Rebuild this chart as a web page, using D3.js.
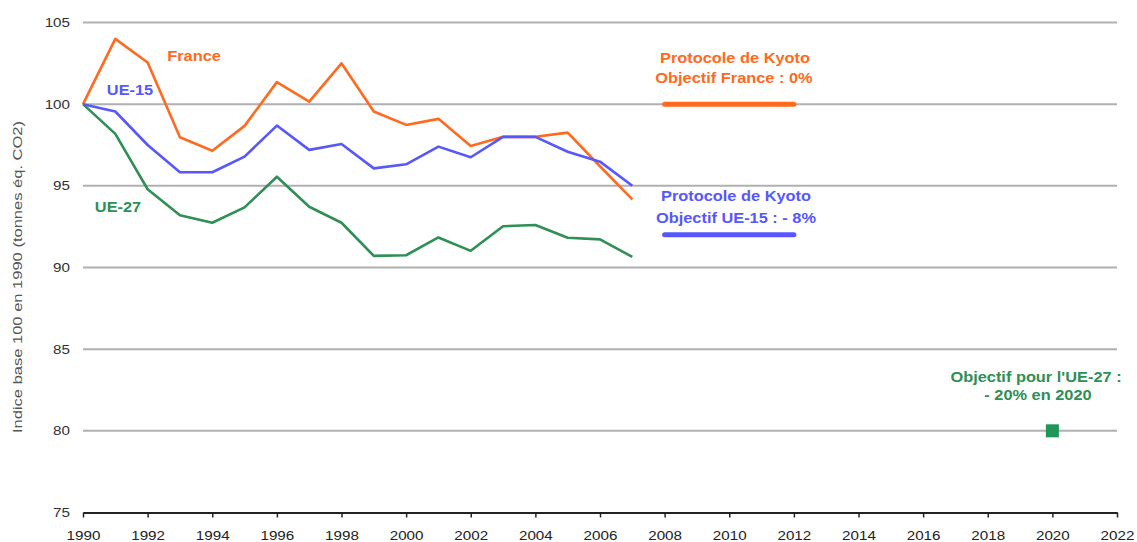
<!DOCTYPE html>
<html>
<head>
<meta charset="utf-8">
<script src="https://cdn.jsdelivr.net/npm/d3@7"></script>
<style>
  body { margin: 0; background: #fff; }
  text { font-family: "Liberation Sans", Arial, sans-serif; }
  .lbl { font-weight: bold; font-size: 14px; }
</style>
</head>
<body>
<div id="chart"></div>
<script>
var years = d3.range(1990, 2008);
var france = [100, 104.0, 102.55, 97.97, 97.15, 98.67, 101.35, 100.16, 102.5, 99.55,
              98.73, 99.1, 97.44, 98.0, 98.0, 98.26, 96.2, 94.17];
var ue15 = [100, 99.55, 97.5, 95.83, 95.83, 96.79, 98.69, 97.2, 97.56, 96.07,
            96.32, 97.4, 96.75, 98.0, 98.0, 97.09, 96.48, 95.0];
var ue27 = [100, 98.18, 94.79, 93.2, 92.74, 93.68, 95.56, 93.72, 92.74, 90.71,
            90.75, 91.84, 91.02, 92.53, 92.6, 91.82, 91.72, 90.65];
var kyotoYears = [2008, 2012];
var kyotoFrance = 100;
var kyotoUE15 = 92;
var target2020 = { year: 2020, value: 80 };
var yTicks = [75, 80, 85, 90, 95, 100, 105];
var xTicks = d3.range(1990, 2023, 2);

var orange = "#ff6a1f", blue = "#5757ff", green = "#2f8f55";
var stretch = 1.17;   // the source type is drawn a bit wide

var width = 1137, height = 542,
    margin = { top: 22, right: 20, bottom: 30, left: 83 };

var svg = d3.select("#chart").append("svg")
    .attr("width", width)
    .attr("height", height);

var x = d3.scaleLinear().domain([1990, 2022]).range([margin.left, 1117]);
var y = d3.scaleLinear().domain([75, 105]).range([512.5, 22.5]);

// grid lines
svg.append("g")
    .selectAll("line")
    .data(yTicks.filter(function (d) { return d > 75; }))
    .enter().append("line")
    .attr("x1", x(1990))
    .attr("x2", x(2022))
    .attr("y1", function (d) { return y(d); })
    .attr("y2", function (d) { return y(d); })
    .attr("stroke", "#b0b0b0")
    .attr("stroke-width", 2);

// y labels
svg.append("g")
    .selectAll("text")
    .data(yTicks)
    .enter().append("text")
    .attr("transform", function (d) { return "translate(70," + y(d) + ") scale(" + stretch + ",1)"; })
    .attr("dy", "0.35em")
    .attr("text-anchor", "end")
    .attr("font-size", 13)
    .attr("fill", "#333")
    .text(function (d) { return d; });

// x axis
var xAxis = svg.append("g")
    .attr("transform", "translate(0," + y(75) + ")")
    .call(d3.axisBottom(x)
        .tickValues(xTicks)
        .tickFormat(d3.format("d"))
        .tickSize(5)
        .tickSizeOuter(0));

xAxis.select(".domain").attr("stroke", "#222").attr("stroke-width", 2);
xAxis.selectAll(".tick line").attr("stroke", "#222").attr("stroke-width", 1.5);
xAxis.selectAll(".tick text")
    .attr("font-size", 13)
    .attr("font-family", "Liberation Sans, Arial, sans-serif")
    .attr("fill", "#222")
    .attr("dy", 20)
    .attr("transform", "scale(" + stretch + ",1)");

// y title
svg.append("text")
    .attr("transform", "translate(22," + 277 + ") rotate(-90)")
    .attr("text-anchor", "middle")
    .attr("font-size", 13)
    .attr("fill", "#555")
    .attr("textLength", 312)
    .attr("lengthAdjust", "spacingAndGlyphs")
    .text("Indice base 100 en 1990 (tonnes éq. CO2)");

var line = d3.line()
    .x(function (d, i) { return x(years[i]); })
    .y(function (d) { return y(d); });

[[ue27, green], [france, orange], [ue15, blue]].forEach(function (s) {
    svg.append("path")
        .datum(s[0])
        .attr("fill", "none")
        .attr("stroke", s[1])
        .attr("stroke-width", 2.6)
        .attr("stroke-linejoin", "round")
        .attr("d", line);
});

// Kyoto targets
[[kyotoFrance, orange], [kyotoUE15, blue]].forEach(function (k) {
    svg.append("line")
        .attr("x1", x(kyotoYears[0]))
        .attr("x2", x(kyotoYears[1]))
        .attr("y1", y(k[0]))
        .attr("y2", y(k[0]))
        .attr("stroke", k[1])
        .attr("stroke-width", 5)
        .attr("stroke-linecap", "round");
});

// 2020 target
svg.append("rect")
    .attr("x", x(target2020.year) - 6.5)
    .attr("y", y(target2020.value) - 6.5)
    .attr("width", 13)
    .attr("height", 13)
    .attr("fill", "#1f9558");

function label(txt, cx, cy, color) {
    svg.append("text")
        .attr("class", "lbl")
        .attr("transform", "translate(" + cx + "," + cy + ") scale(" + stretch + ",1)")
        .attr("dy", "0.35em")
        .attr("text-anchor", "middle")
        .attr("fill", color)
        .text(txt);
}

label("France", 194, 56, orange);
label("UE-15", 130, 90, blue);
label("UE-27", 118, 207, green);
label("Protocole de Kyoto", 735, 58, orange);
label("Objectif France : 0%", 734, 78, orange);
label("Protocole de Kyoto", 736, 196, blue);
label("Objectif UE-15 : - 8%", 736, 218, blue);
label("Objectif pour l'UE-27 :", 1036, 377, green);
label("- 20% en 2020", 1038, 395, green);
</script>
</body>
</html>
